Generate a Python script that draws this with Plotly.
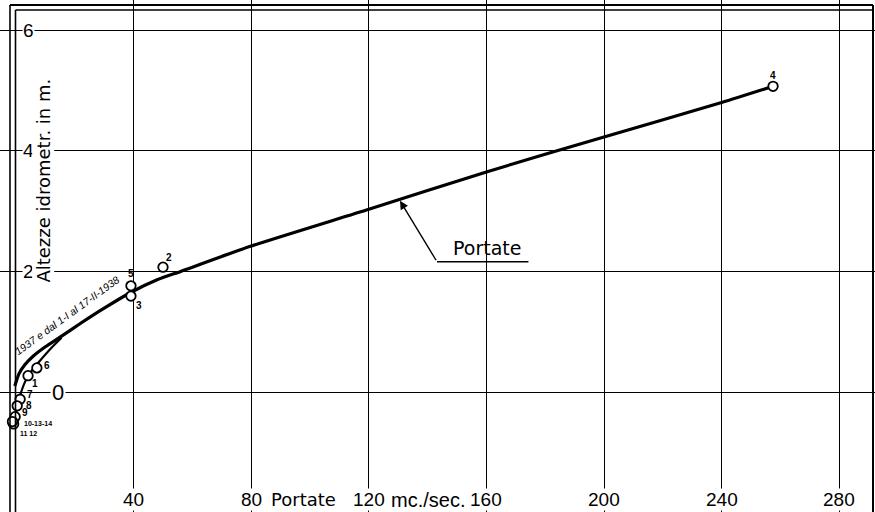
import plotly.graph_objects as go

# ---- data ----
# main rating curve (outer / upper branch)
main_q = [-0.4, 1, 3, 6, 10, 15, 22, 30, 39, 48, 56, 80, 120, 160, 200, 240, 257.5]
main_h = [0.10, 0.30, 0.45, 0.60, 0.75, 0.91, 1.14, 1.39, 1.65, 1.86, 2.00, 2.42, 3.03, 3.65, 4.23, 4.80, 5.07]
# lower branch (1937 e dal 1-I al 17-II-1938)
low_q = [-0.3, 0.5, 1.5, 3, 5, 8, 12, 15.5]
low_h = [-0.42, -0.22, -0.04, 0.16, 0.33, 0.51, 0.73, 0.90]
# measured points
pt_labels = ["1", "2", "3", "4", "5", "6", "7", "8", "9", "10-13-14", "", ""]
pt_q = [4.1, 50, 39.1, 257.5, 39.1, 7.1, 1.4, 0.4, -0.3, -1.0, -0.8, -1.2]
pt_h = [0.27, 2.07, 1.59, 5.07, 1.76, 0.40, -0.12, -0.23, -0.41, -0.51, -0.53, -0.49]
# label offsets in pixels (dx right, dy up)
pt_dx = [7, 6, 8, 0, 0, 10, 10, 12, 10, 25, 0, 0]
pt_dy = [-8, 10, -9, 11, 12, 2, 5, 0, 4, -1, 0, 0]

x_ticks = [40, 80, 120, 160, 200, 240, 280]
x_tick_text = ["40", "80", "120", "160", "200", "240", "280"]
y_ticks = [0, 2, 4, 6]
y_tick_text = ["0", "2", "4", "6"]

W, H = 875, 512
def px(x):
    return x / W
def py(y):
    return 1 - y / H

fig = go.Figure()
fig.add_trace(go.Scatter(x=main_q, y=main_h, mode="lines",
                         line=dict(color="black", width=3.2, shape="spline", smoothing=0.6),
                         hoverinfo="skip", showlegend=False))
fig.add_trace(go.Scatter(x=low_q, y=low_h, mode="lines",
                         line=dict(color="black", width=2.2, shape="spline", smoothing=0.6),
                         hoverinfo="skip", showlegend=False))
fig.add_trace(go.Scatter(x=pt_q, y=pt_h, mode="markers",
                         marker=dict(symbol="circle", size=9.5, color="white",
                                     line=dict(color="black", width=1.8)),
                         cliponaxis=False, hoverinfo="skip", showlegend=False))

shapes = []
# masks so the grid starts at the inner frame
shapes.append(dict(type="rect", xref="paper", yref="paper", x0=px(0), x1=px(15), y0=0, y1=1,
                   fillcolor="white", line=dict(width=0), layer="between"))
shapes.append(dict(type="rect", xref="paper", yref="paper", x0=0, x1=1, y0=py(10), y1=1,
                   fillcolor="white", line=dict(width=0), layer="between"))
shapes.append(dict(type="rect", xref="paper", yref="paper", x0=px(873), x1=1, y0=0, y1=1,
                   fillcolor="white", line=dict(width=0), layer="between"))
# frame lines
shapes.append(dict(type="line", xref="paper", yref="paper", x0=px(10), x1=px(10),
                   y0=0, y1=py(5), line=dict(color="black", width=1.6)))
shapes.append(dict(type="line", xref="paper", yref="paper", x0=px(15.5), x1=px(15.5),
                   y0=0, y1=py(10), line=dict(color="black", width=1.6)))
shapes.append(dict(type="line", xref="paper", yref="paper", x0=px(10), x1=px(873),
                   y0=py(5), y1=py(5), line=dict(color="black", width=2.2)))
shapes.append(dict(type="line", xref="paper", yref="paper", x0=px(15.5), x1=px(873),
                   y0=py(10), y1=py(10), line=dict(color="black", width=1.4)))
shapes.append(dict(type="line", xref="paper", yref="paper", x0=px(873), x1=px(873),
                   y0=0, y1=py(5), line=dict(color="black", width=2)))
# callout underline for "Portate"
shapes.append(dict(type="line", xref="x", yref="y", x0=143.2, x1=174.3, y0=2.16, y1=2.16,
                   line=dict(color="black", width=1.4)))

ann = []
for v, t in zip(x_ticks, x_tick_text):
    ann.append(dict(x=v, y=-1.79, xref="x", yref="y", text=t, showarrow=False,
                    font=dict(family="Liberation Sans", size=19, color="black"),
                    bgcolor="white", borderpad=0))
ann.append(dict(x=97.8, y=-1.79, xref="x", yref="y", text="Portate", showarrow=False,
                font=dict(family="DejaVu Sans", size=18, color="black"), bgcolor="white", borderpad=0))
ann.append(dict(x=140.0, y=-1.79, xref="x", yref="y", text="mc./sec.", showarrow=False,
                font=dict(family="Liberation Sans", size=20, color="black"), bgcolor="white", borderpad=0))
for v, t in zip(y_ticks, y_tick_text):
    if v == 0:
        ann.append(dict(x=14.3, y=v, xref="x", yref="y", text=t, showarrow=False,
                        font=dict(family="Liberation Sans", size=22, color="black"),
                        bgcolor="white", borderpad=1))
    else:
        ann.append(dict(x=4.1, y=v, xref="x", yref="y", text=t, showarrow=False,
                        font=dict(family="Liberation Sans", size=19, color="black"),
                        bgcolor="white", borderpad=0))
ann.append(dict(x=9.4, y=3.5, xref="x", yref="y", text="Altezze idrometr. in m.",
                textangle=-90, showarrow=False,
                font=dict(family="DejaVu Sans", size=18, color="black"), bgcolor="white", borderpad=0))
ann.append(dict(x=17.5, y=1.27, xref="x", yref="y", text="<i>1937 e dal 1-I al 17-II-1938</i>",
                textangle=-36, showarrow=False,
                font=dict(family="Liberation Sans", size=10.5, color="black")))
# point labels
for q, h, t, dx, dy in zip(pt_q, pt_h, pt_labels, pt_dx, pt_dy):
    if t:
        ann.append(dict(x=q, y=h, xref="x", yref="y", text="<b>" + t + "</b>", showarrow=False,
                        xshift=dx, yshift=dy,
                        font=dict(family="Liberation Sans", size=(7 if len(t) > 2 else 10),
                                  color="black")))
ann.append(dict(x=pt_q[9], y=pt_h[9], xref="x", yref="y", text="<b>11 12</b>", showarrow=False,
                xshift=15, yshift=-11,
                font=dict(family="Liberation Sans", size=7, color="black")))
# callout
ann.append(dict(x=130.6, y=3.17, ax=143.2, ay=2.16, xref="x", yref="y", axref="x", ayref="y",
                text="", showarrow=True, arrowhead=2, arrowsize=1.2, arrowwidth=1.4,
                arrowcolor="black"))
ann.append(dict(x=160.2, y=2.38, xref="x", yref="y", text="Portate", showarrow=False,
                font=dict(family="DejaVu Sans", size=19, color="black")))

fig.update_layout(
    width=W, height=H,
    margin=dict(l=0, r=0, t=0, b=0),
    paper_bgcolor="white", plot_bgcolor="white",
    xaxis=dict(range=[-16 / 2.94, (W - 16) / 2.94], tickvals=x_ticks, showticklabels=False,
               showgrid=True, gridcolor="black", gridwidth=1.4, zeroline=False, ticks="",
               showline=False),
    yaxis=dict(range=[-(H - 392) / 60.3, 392 / 60.3], tickvals=y_ticks, showticklabels=False,
               showgrid=True, gridcolor="black", gridwidth=1.4, zeroline=False, ticks="",
               showline=False),
    shapes=shapes, annotations=ann, showlegend=False,
)

fig.write_html("out.html", config={"displayModeBar": False},
               post_script="document.body.style.margin='0px';")
